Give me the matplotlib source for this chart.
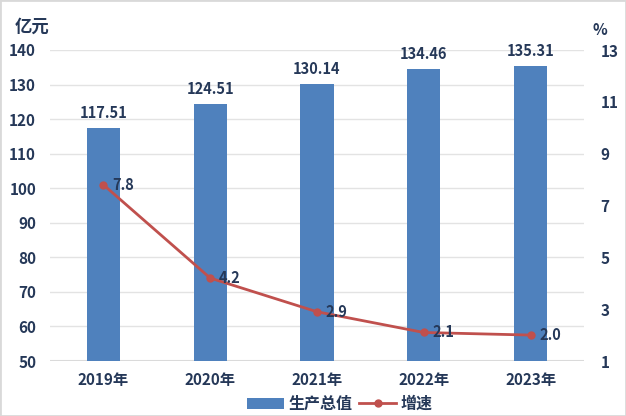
import matplotlib.pyplot as plt
import numpy as np

plt.rcParams['font.family'] = ['Noto Sans CJK SC', 'DejaVu Sans']
plt.rcParams['font.weight'] = 'bold'

years = ["2019年", "2020年", "2021年", "2022年", "2023年"]
output = [117.51, 124.51, 130.14, 134.46, 135.31]
growth = [7.8, 4.2, 2.9, 2.1, 2.0]

txt = '#253858'
bar_color = '#4f81bd'
line_color = '#c0504d'

fig = plt.figure(figsize=(6.26, 4.16), dpi=100)
ax = fig.add_axes([50 / 626, 1 - 361 / 416, 534 / 626, 311 / 416])
x = np.arange(len(years))

ax.bar(x, [v - 50 for v in output], bottom=50, width=0.31, color=bar_color, zorder=2,
       label='生产总值')
for xi, v in zip(x, output):
    ax.text(xi, v + 2, f"{v:.2f}", ha='center', va='bottom', fontsize=10.5,
            color=txt, fontweight='bold')
ax.set_ylim(50, 140)
ax.set_yticks(range(50, 141, 10))
ax.set_xlim(-0.5, len(years) - 0.5)
ax.set_xticks(x)
ax.set_xticklabels(years)
ax.grid(axis='y', color='#e3e3e3', linewidth=1, zorder=0)
for s in ax.spines.values():
    s.set_visible(False)
ax.axhline(50, color='#d9d9d9', linewidth=1.5, zorder=1)
ax.tick_params(length=0, labelsize=11, colors=txt, pad=8)
ax.tick_params(axis='y', pad=10)

ax2 = ax.twinx()
ax2.plot(x, growth, color=line_color, linewidth=2, marker='o', markersize=5, zorder=3,
         label='增速')
for xi, g in zip(x, growth):
    ax2.text(xi + 0.08, g, f"{g:.1f}", ha='left', va='center', fontsize=10.5,
             color=txt, fontweight='bold')
ax2.set_ylim(1, 13)
ax2.set_yticks(range(1, 14, 2))
for s in ax2.spines.values():
    s.set_visible(False)
ax2.tick_params(length=0, labelsize=11, colors=txt, pad=12)

fig.text(15 / 626, 1 - 27 / 416, '亿元', fontsize=12.5, color=txt, va='center', ha='left')
fig.text(600 / 626, 1 - 30 / 416, '%', fontsize=11, color=txt, va='center', ha='center')

h1, l1 = ax.get_legend_handles_labels()
h2, l2 = ax2.get_legend_handles_labels()
fig.legend(h1 + h2, l1 + l2, loc='center', bbox_to_anchor=(340 / 626, 1 - 404 / 416),
           ncol=2, frameon=False, fontsize=11.5, labelcolor=txt, handlelength=2.3,
           columnspacing=0.4, handletextpad=0.3, borderaxespad=0)

fig.patches.append(plt.Rectangle((0, 0), 1, 1, transform=fig.transFigure, fill=False,
                                 edgecolor='#d9d9d9', linewidth=2))
fig.savefig('out.png', dpi=100)
